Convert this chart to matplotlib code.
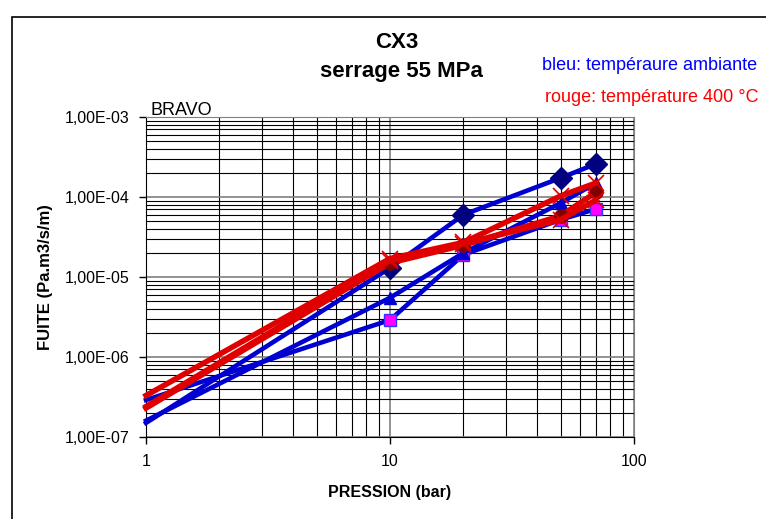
import matplotlib.pyplot as plt
from matplotlib.ticker import FixedLocator, LogLocator, NullFormatter
from matplotlib.patches import Rectangle

plt.rcParams['font.family'] = ['Liberation Sans', 'DejaVu Sans']

# pressure points (bar)
pression = [1, 10, 20, 50, 70]

# blue series: ambient temperature
bleu_losange = [1.5e-7, 1.3e-5, 6.0e-5, 1.73e-4, 2.6e-4]
bleu_carre = [2.9e-7, 2.9e-6, 1.9e-5, 5.2e-5, 7.1e-5]
bleu_triangle = [1.6e-7, 5.5e-6, 2.0e-5, 8.4e-5, 1.5e-4]

# red series: 400 °C
rouge_x = [3.3e-7, 1.7e-5, 2.7e-5, 1.03e-4, 1.5e-4]
rouge_etoile = [2.4e-7, 1.6e-5, 2.6e-5, 5.2e-5, 9.2e-5]
rouge_rond = [2.3e-7, 1.5e-5, 2.5e-5, 5.8e-5, 1.15e-4]

y_ticks = [1e-7, 1e-6, 1e-5, 1e-4, 1e-3]
y_labels = ['1,00E-07', '1,00E-06', '1,00E-05', '1,00E-04', '1,00E-03']
x_ticks = [1, 10, 100]
x_labels = ['1', '10', '100']

fig = plt.figure(figsize=(7.66, 5.19), dpi=100)
ax = fig.add_axes([146/766, 1 - 437/519, (634 - 146)/766, (437 - 117)/519])
ax.set_xscale('log')
ax.set_yscale('log')
ax.set_xlim(1, 100)
ax.set_ylim(1e-7, 1e-3)

ax.grid(True, which='major', color='#808080', lw=1.2)
ax.grid(True, which='minor', color='black', lw=0.8)
ax.set_axisbelow(True)

blue = '#0000d0'
red = '#e00000'
skip = list(range(1, len(pression)))

# blue lines
ax.plot(pression, bleu_carre, color=blue, lw=3.3, marker='s', ms=8,
        mfc='#ff00ff', mec='#3333ff', mew=1, markevery=skip, clip_on=False, zorder=3)
ax.plot(pression, bleu_triangle, color=blue, lw=3.3, marker='^', ms=9,
        mfc=blue, mec=blue, markevery=skip, clip_on=False, zorder=3)
ax.plot(pression, bleu_losange, color=blue, lw=3.3, marker='D', ms=11,
        mfc='#000080', mec='#000080', markevery=skip, clip_on=False, zorder=3)

# red lines
ax.plot(pression, rouge_rond, color=red, lw=4, marker='o', ms=9.5,
        mfc='#800000', mec='#800000', markevery=skip, clip_on=False, zorder=4)
ax.plot(pression, rouge_etoile, color=red, lw=4, marker='x', ms=11, mew=1.2,
        mec=red, markevery=skip, clip_on=False, zorder=4)
ax.plot(pression, rouge_x, color=red, lw=4, marker='x', ms=11, mew=1.2,
        mec=red, markevery=skip, clip_on=False, zorder=4)

ax.yaxis.set_major_locator(FixedLocator(y_ticks))
ax.set_yticklabels(y_labels, fontsize=11.5)
ax.xaxis.set_major_locator(FixedLocator(x_ticks))
ax.set_xticklabels(x_labels, fontsize=11.5)
ax.yaxis.set_minor_locator(LogLocator(base=10, subs=range(2, 10)))
ax.xaxis.set_minor_locator(LogLocator(base=10, subs=range(2, 10)))
ax.yaxis.set_minor_formatter(NullFormatter())
ax.xaxis.set_minor_formatter(NullFormatter())
ax.tick_params(which='minor', length=0)
ax.tick_params(which='major', length=5, width=1, direction='out', pad=7)

for s in ['top', 'right']:
    ax.spines[s].set_color('#808080')
for s in ['left', 'bottom']:
    ax.spines[s].set_color('black')

ax.set_xlabel('PRESSION (bar)', fontsize=11.5, fontweight='bold', labelpad=12)
ax.set_ylabel('FUITE (Pa.m3/s/m)', fontsize=12, fontweight='bold', labelpad=8)

fig.text(397/766, 1 - 42/519, 'CX3', ha='center', va='center', fontsize=16, fontweight='bold')
fig.text(401/766, 1 - 72/519, 'serrage 55 MPa', ha='center', va='center', fontsize=16, fontweight='bold')
fig.text(542/766, 1 - 66/519, 'bleu: tempéraure ambiante', ha='left', va='center',
         fontsize=13, color='#0000ff')
fig.text(545/766, 1 - 98/519, 'rouge: température 400 °C', ha='left', va='center',
         fontsize=13, color='#ff0000')
fig.text(151/766, 1 - 119/519, 'BRAVO', ha='left', va='bottom', fontsize=13)

# outer chart frame
fig.patches.append(Rectangle((12/766, -0.1), 1.0, 1.1 - 17/519, transform=fig.transFigure,
                             fill=False, edgecolor='black', lw=1.2))

fig.savefig('out.png', dpi=100)
